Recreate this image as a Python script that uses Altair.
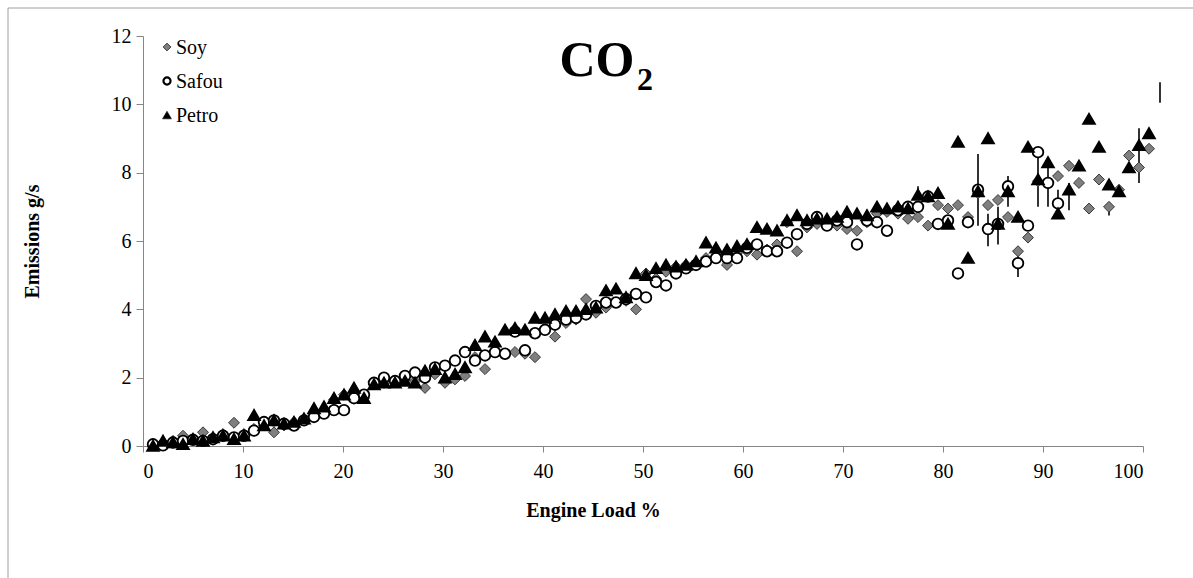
import altair as alt
import pandas as pd

loads = [1.0, 2.0, 3.0, 4.0, 5.0, 6.0, 7.0, 8.0, 9.1, 10.1,
         11.1, 12.1, 13.1, 14.1, 15.1, 16.1, 17.1, 18.1, 19.1, 20.1,
         21.1, 22.1, 23.1, 24.1, 25.2, 26.2, 27.2, 28.2, 29.2, 30.2,
         31.2, 32.2, 33.2, 34.2, 35.2, 36.2, 37.2, 38.2, 39.2, 40.2,
         41.2, 42.3, 43.3, 44.3, 45.3, 46.3, 47.3, 48.3, 49.3, 50.3,
         51.3, 52.3, 53.3, 54.3, 55.3, 56.3, 57.3, 58.4, 59.4, 60.4,
         61.4, 62.4, 63.4, 64.4, 65.4, 66.4, 67.4, 68.4, 69.4, 70.4,
         71.4, 72.4, 73.4, 74.4, 75.5, 76.5, 77.5, 78.5, 79.5, 80.5,
         81.5, 82.5, 83.5, 84.5, 85.5, 86.5, 87.5, 88.5, 89.5, 90.5,
         91.5, 92.6, 93.6, 94.6, 95.6, 96.6, 97.6, 98.6, 99.6, 100.6]

soy = [0.05, 0.05, 0.15, 0.3, 0.2, 0.4, 0.25, 0.35, 0.68, 0.35,
       0.5, 0.6, 0.4, 0.6, 0.7, 0.75, 0.9, 1.0, 1.35, 1.5,
       1.5, 1.4, 1.8, 1.85, 1.9, 1.95, 1.9, 1.7, 2.1, 1.85,
       1.95, 2.05, 2.6, 2.25, 2.75, 2.7, 2.75, 2.7, 2.6, 3.4,
       3.2, 3.6, 3.7, 4.3, 3.9, 4.05, 4.2, 4.25, 4.0, 5.05,
       4.9, 5.1, 5.25, 5.3, 5.35, 5.5, 5.5, 5.3, 5.65, 5.7,
       5.6, 5.75, 5.9, 6.55, 5.7, 6.4, 6.5, 6.6, 6.45, 6.35,
       6.3, 6.55, 6.8, 6.85, 6.8, 6.65, 6.7, 6.45, 7.05, 6.95,
       7.05, 6.7, 7.4, 7.05, 7.2, 6.7, 5.7, 6.1, 7.75, 7.7,
       7.9, 8.2, 7.7, 6.95, 7.8, 7.0, 7.5, 8.5, 8.15, 8.7]

safou = [0.05, 0.02, 0.1, 0.15, 0.18, 0.15, 0.2, 0.3, 0.25, 0.3,
         0.45, 0.7, 0.75, 0.65, 0.6, 0.75, 0.85, 0.95, 1.05, 1.05,
         1.4, 1.5, 1.85, 2.0, 1.9, 2.05, 2.15, 2.0, 2.3, 2.35,
         2.5, 2.75, 2.5, 2.65, 2.75, 2.7, 3.35, 2.8, 3.3, 3.4,
         3.55, 3.7, 3.75, 3.85, 4.1, 4.2, 4.2, 4.3, 4.45, 4.35,
         4.8, 4.7, 5.05, 5.2, 5.3, 5.4, 5.5, 5.5, 5.5, 5.8,
         5.9, 5.7, 5.7, 5.95, 6.2, 6.5, 6.7, 6.45, 6.6, 6.55,
         5.9, 6.6, 6.55, 6.3, 6.9, 7.0, 7.0, 7.3, 6.5, 6.6,
         5.05, 6.55, 7.5, 6.35, 6.5, 7.6, 5.35, 6.45, 8.6, 7.7, 7.1]

petro = [0.0, 0.15, 0.1, 0.05, 0.2, 0.15, 0.25, 0.3, 0.2, 0.3,
         0.9, 0.6, 0.75, 0.65, 0.7, 0.8, 1.1, 1.15, 1.4, 1.5,
         1.7, 1.4, 1.8, 1.85, 1.85, 1.9, 1.85, 2.2, 2.25, 2.0,
         2.1, 2.3, 2.95, 3.2, 3.05, 3.4, 3.45, 3.4, 3.75, 3.75,
         3.85, 3.95, 3.95, 4.0, 4.05, 4.55, 4.6, 4.35, 5.05, 5.0,
         5.2, 5.3, 5.25, 5.3, 5.4, 5.95, 5.8, 5.75, 5.85, 5.9,
         6.4, 6.35, 6.3, 6.6, 6.75, 6.6, 6.65, 6.65, 6.7, 6.85,
         6.8, 6.75, 7.0, 6.95, 7.0, 6.95, 7.35, 7.3, 7.4, 6.5,
         8.9, 5.5, 7.45, 9.0, 6.5, 7.45, 6.7, 8.75, 7.8, 8.3,
         6.8, 7.5, 8.2, 9.57, 8.75, 7.65, 7.45, 8.15, 8.8, 9.15]

err_x = [77.5, 83.5, 84.5, 85.5, 86.5, 87.5, 89.5, 90.5, 91.5, 92.6, 96.6, 99.6, 101.7]
err_lo = [7.2, 6.45, 5.85, 5.9, 7.0, 4.95, 7.0, 7.0, 6.9, 6.9, 6.75, 7.7, 10.05]
err_hi = [7.6, 8.55, 6.8, 7.0, 7.9, 5.6, 8.6, 8.35, 7.5, 7.7, 7.0, 9.3, 10.65]

series_names = ["Soy", "Safou", "Petro"]
shapes = ["diamond", "circle", "triangle-up"]
fills = ["#7f7f7f", "white", "black"]
strokes = ["#3a3a3a", "black", "black"]
stroke_widths = [1, 2.7, 0.5]
sizes = [120, 105, 170]
legend_sizes = [60, 50, 80]

rows = []
i = 0
for name, vals in zip(series_names, [soy, safou, petro]):
    for x, y in zip(loads, vals):
        rows.append({"load": x, "em": y, "series": name, "idx": i})
        i += 1
df = pd.DataFrame(rows)
err = pd.DataFrame({"load": err_x, "lo": err_lo, "hi": err_hi})

FONT = "Liberation Serif"
AX = "#868686"

xscale = alt.Scale(domain=[0, 100], nice=False, zero=True)
yscale = alt.Scale(domain=[0, 12], nice=False)

one = pd.DataFrame({"a": [0]})

border = alt.Chart(one).mark_rect(
    fillOpacity=0, stroke="#a0a0a0", strokeWidth=1
).encode(x=alt.value(-135), x2=alt.value(1100), y=alt.value(-28), y2=alt.value(600))

bars = alt.Chart(err).mark_rule(color="black", strokeWidth=1.6).encode(
    x=alt.X("load:Q", scale=xscale),
    y=alt.Y("lo:Q", scale=yscale),
    y2="hi:Q",
)

points = alt.Chart(df).mark_point(opacity=1, filled=False).encode(
    x=alt.X("load:Q", scale=xscale,
            axis=alt.Axis(title="Engine Load %", values=list(range(0, 101, 10)),
                          grid=False, domainColor=AX, tickColor=AX, tickSize=6,
                          labelPadding=9, labelFont=FONT, labelFontSize=20,
                          labelColor="black", titleFont=FONT, titleFontSize=20,
                          titleFontWeight="bold", titleColor="black",
                          titleX=450, titleY=64, titleBaseline="middle")),
    y=alt.Y("em:Q", scale=yscale,
            axis=alt.Axis(title="Emissions g/s", values=list(range(0, 13, 2)),
                          grid=False, domainColor=AX, tickColor=AX, tickSize=7,
                          labelPadding=5, labelFont=FONT, labelFontSize=20,
                          labelColor="black", titleFont=FONT, titleFontSize=20,
                          titleFontWeight="bold", titleColor="black",
                          titleX=-111, titleY=205, titleBaseline="middle",
                          titleAlign="center")),
    shape=alt.Shape("series:N", scale=alt.Scale(domain=series_names, range=shapes), legend=None),
    fill=alt.Fill("series:N", scale=alt.Scale(domain=series_names, range=fills), legend=None),
    stroke=alt.Stroke("series:N", scale=alt.Scale(domain=series_names, range=strokes), legend=None),
    strokeWidth=alt.StrokeWidth("series:N", scale=alt.Scale(domain=series_names, range=stroke_widths), legend=None),
    size=alt.Size("series:N", scale=alt.Scale(domain=series_names, range=sizes), legend=None),
    order=alt.Order("idx:Q"),
)

# legend (manual, top-left inside plot)
legend_layers = []
leg_y = [11, 45, 79]
for k, name in enumerate(series_names):
    sym = alt.Chart(one).mark_point(
        shape=shapes[k], fill=fills[k], stroke=strokes[k], strokeWidth=stroke_widths[k] if k != 1 else 2.2,
        size=legend_sizes[k], opacity=1, filled=False
    ).encode(x=alt.value(24), y=alt.value(leg_y[k]))
    txt = alt.Chart(pd.DataFrame({"t": [name]})).mark_text(
        font=FONT, fontSize=20, color="black", align="left", baseline="middle"
    ).encode(x=alt.value(33), y=alt.value(leg_y[k] + 1), text="t:N")
    legend_layers += [sym, txt]

title_co = alt.Chart(pd.DataFrame({"t": ["CO"]})).mark_text(
    font=FONT, fontSize=50, fontWeight="bold", color="black", align="center", baseline="middle"
).encode(x=alt.value(454), y=alt.value(25), text="t:N")

title_sub = alt.Chart(pd.DataFrame({"t": ["2"]})).mark_text(
    font=FONT, fontSize=32, fontWeight="bold", color="black", align="left", baseline="middle"
).encode(x=alt.value(494), y=alt.value(44), text="t:N")

chart = alt.layer(border, bars, points, *legend_layers, title_co, title_sub).properties(
    width=1000, height=410,
    autosize=alt.AutoSizeParams(type="none"),
    padding={"left": 143, "top": 36, "right": 50, "bottom": 132},
    background="white",
).configure_view(stroke=None)

chart.save("out.html", embed_options={"renderer": "svg", "actions": False})
